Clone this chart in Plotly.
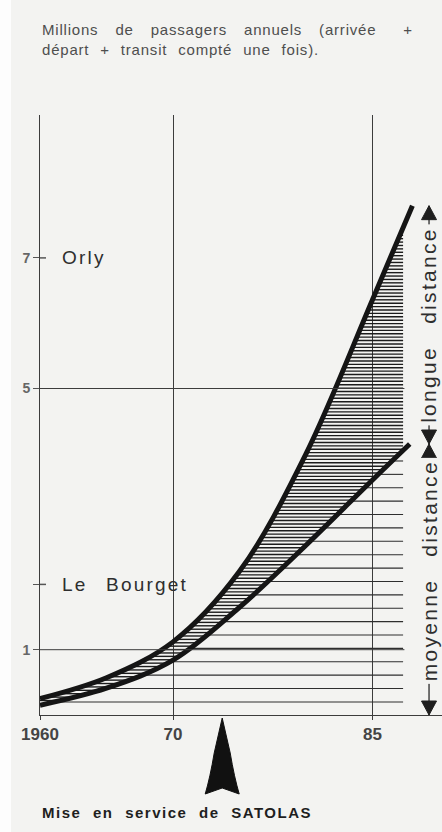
import numpy as np
import plotly.graph_objects as go

# ---- Annual passengers, millions (arrival + departure + transit counted once) ----
# upper curve: medium + long distance traffic
total_years = [1960, 1965, 1970, 1975, 1980, 1985, 1988]
total_pax = [0.25, 0.57, 1.12, 2.2, 4.0, 6.36, 7.8]
# lower curve: medium distance traffic
medium_years = [1960, 1965, 1970, 1975, 1980, 1985, 1987.8]
medium_pax = [0.15, 0.41, 0.84, 1.65, 2.6, 3.6, 4.15]

x_tick_vals = [1960, 1970, 1985]
x_tick_text = ["1960", "70", "85"]
y_tick_vals = [1, 2, 5, 7]
y_tick_text = ["1", "", "5", "7"]
ref_levels = [1, 5]
airport_names = ["Orly", "Le Bourget"]
airport_pax = [7, 2]
satolas_year = 1973.7
band_names = ["longue distance", "moyenne distance"]

# ---- page geometry / style ----
W, H = 442, 832
M_L, M_R, M_T, M_B = 40, 0, 115, 117
PX_YEAR, PX_UNIT = 13.3, 65.3
x_range = [1960, 1960 + (W - M_L - M_R) / PX_YEAR]
y_range = [0, (H - M_T - M_B) / PX_UNIT]
HATCH_END = 1987.3
LABEL_X = 1989.25
BG = "#f3f3f1"
INK = "#151515"
GRID = "#3c3c3c"
FONT = "Liberation Sans, Arial, sans-serif"


def spaced(text, letter=1.5, word=6):
    return f'<span style="letter-spacing:{letter}px;word-spacing:{word}px">{text}</span>'


def pchip(xk, yk, xs):
    """Monotone cubic (Fritsch-Carlson) used to locate hatch ends on the curves."""
    xk = np.asarray(xk, float)
    yk = np.asarray(yk, float)
    h = np.diff(xk)
    d = np.diff(yk) / h
    m = np.zeros_like(yk)
    for k in range(1, len(xk) - 1):
        if d[k - 1] * d[k] > 0:
            w1 = 2 * h[k] + h[k - 1]
            w2 = h[k] + 2 * h[k - 1]
            m[k] = (w1 + w2) / (w1 / d[k - 1] + w2 / d[k])
    m[0] = ((2 * h[0] + h[1]) * d[0] - h[0] * d[1]) / (h[0] + h[1])
    m[-1] = ((2 * h[-1] + h[-2]) * d[-1] - h[-1] * d[-2]) / (h[-1] + h[-2])
    m[0] = max(m[0], 0)
    m[-1] = max(m[-1], 0)
    idx = np.clip(np.searchsorted(xk, xs) - 1, 0, len(xk) - 2)
    t = (xs - xk[idx]) / h[idx]
    h00 = 2 * t**3 - 3 * t**2 + 1
    h10 = t**3 - 2 * t**2 + t
    h01 = -2 * t**3 + 3 * t**2
    h11 = t**3 - t**2
    return (h00 * yk[idx] + h10 * h[idx] * m[idx] + h01 * yk[idx + 1]
            + h11 * h[idx] * m[idx + 1])


t_grid = np.linspace(total_years[0], total_years[-1], 800)
t_vals = pchip(total_years, total_pax, t_grid)
m_grid = np.linspace(medium_years[0], medium_years[-1], 800)
m_vals = pchip(medium_years, medium_pax, m_grid)


def year_at(v, grid, vals):
    return float(np.interp(v, vals, grid))


# dense hatching: long distance share, between the two curves
long_x, long_y = [], []
for v in np.arange(medium_pax[0] + 0.02, total_pax[-1], 0.052):
    x0 = year_at(v, t_grid, t_vals) if v > total_pax[0] else x_range[0]
    x1 = year_at(v, m_grid, m_vals) if v < medium_pax[-1] else HATCH_END
    x1 = min(x1, HATCH_END)
    if x1 - x0 > 0.05:
        long_x += [x0, x1, None]
        long_y += [v, v, None]

# sparse hatching: medium distance share, below the lower curve
med_x, med_y = [], []
for v in np.arange(0.2, medium_pax[-1], 0.205):
    x0 = year_at(v, m_grid, m_vals) if v > medium_pax[0] else x_range[0]
    if HATCH_END - x0 > 0.05:
        med_x += [x0, HATCH_END, None]
        med_y += [v, v, None]

fig = go.Figure()
fig.add_trace(go.Scatter(x=med_x, y=med_y, mode="lines",
                         line=dict(color="#2e2e2e", width=1.1), hoverinfo="skip"))
fig.add_trace(go.Scatter(x=long_x, y=long_y, mode="lines",
                         line=dict(color="#1c1c1c", width=1.4), hoverinfo="skip"))
fig.add_trace(go.Scatter(x=medium_years, y=medium_pax, mode="lines",
                         line=dict(color=INK, width=5, shape="spline"), name="moyenne distance"))
fig.add_trace(go.Scatter(x=total_years, y=total_pax, mode="lines",
                         line=dict(color=INK, width=5, shape="spline"), name="total"))

shapes = []
# page edge
shapes.append(dict(type="rect", xref="paper", yref="paper",
                   x0=-M_L / (W - M_L - M_R), x1=(11 - M_L) / (W - M_L - M_R),
                   y0=-M_B / (H - M_T - M_B), y1=1 + M_T / (H - M_T - M_B),
                   fillcolor="#fdfdfd", line=dict(width=0), layer="below"))
# reference lines at 1 and 5 million
for lv in ref_levels:
    shapes.append(dict(type="line", xref="x", yref="y", x0=x_range[0], x1=HATCH_END + 0.1,
                       y0=lv, y1=lv, line=dict(color=GRID, width=1)))
# small inner ticks at the airport levels
for lv in airport_pax:
    shapes.append(dict(type="line", xref="x", yref="y", x0=x_range[0], x1=x_range[0] + 0.45,
                       y0=lv, y1=lv, line=dict(color="#555", width=1.5)))
# dimension lines on the right
lo_m, hi_m = 0, medium_pax[-1]
lo_l, hi_l = medium_pax[-1], total_pax[-1]
for lo, hi in [(lo_m, hi_m), (lo_l, hi_l)]:
    shapes.append(dict(type="line", xref="x", yref="y", x0=LABEL_X, x1=LABEL_X,
                       y0=lo, y1=hi, line=dict(color="#2a2a2a", width=1.3)))
up_tri = "M 0,0 L -7.5,-14 L 7.5,-14 Z"
down_tri = "M 0,0 L -7.5,14 L 7.5,14 Z"
for anchor, path in [(hi_l, up_tri), (lo_l, down_tri), (hi_m, up_tri), (lo_m, down_tri)]:
    shapes.append(dict(type="path", xref="x", yref="y", xsizemode="pixel", ysizemode="pixel",
                       xanchor=LABEL_X, yanchor=anchor, path=path,
                       fillcolor="#1e1e1e", line=dict(color="#1e1e1e", width=1)))
# opening of Satolas
shapes.append(dict(type="path", xref="x", yref="paper", xsizemode="pixel", ysizemode="pixel",
                   xanchor=satolas_year, yanchor=0,
                   path="M 0,-3 L -8,-38 Q -12,-62 -17,-79 L 0,-73 L 17,-79 Q 12,-62 8,-38 Z",
                   fillcolor="#111", line=dict(color="#111", width=1)))

annotations = []
annotations.append(dict(
    xref="paper", yref="paper", x=0, y=(H - M_B - 19) / (H - M_T - M_B),
    xanchor="left", yanchor="top", align="left", showarrow=False,
    text=spaced("Millions de passagers annuels (arrivée", 0.8, 12)
    + '<span style="letter-spacing:0.8px;word-spacing:22px"> +</span>'
    + "<br>" + spaced("départ + transit compté une fois).", 0.8, 6),
    font=dict(family=FONT, size=15, color="#4e4e4e")))
for name, lv in zip(airport_names, airport_pax):
    annotations.append(dict(xref="x", yref="y", x=1961.5, y=lv, xanchor="left", yanchor="middle",
                            showarrow=False, text=spaced(name, 2.2, 11),
                            font=dict(family=FONT, size=19, color="#2e2e2e")))
annotations.append(dict(
    xref="x", yref="y", x=LABEL_X, y=(lo_l + hi_l) / 2, textangle=-90, showarrow=False,
    text=spaced(band_names[0], 2.3, 14), bgcolor=BG, borderpad=2,
    font=dict(family=FONT, size=21, color="#2e2e2e")))
annotations.append(dict(
    xref="x", yref="y", x=LABEL_X, y=2.2, textangle=-90, showarrow=False,
    text=spaced(band_names[1], 2.3, 14), bgcolor=BG, borderpad=2,
    font=dict(family=FONT, size=21, color="#2e2e2e")))
annotations.append(dict(
    xref="paper", yref="paper", x=0, y=-97 / (H - M_T - M_B),
    xanchor="left", yanchor="middle", showarrow=False,
    text="<b>" + spaced("Mise en service de SATOLAS", 1.5, 6) + "</b>",
    font=dict(family=FONT, size=15, color="#1e1e1e")))

fig.update_layout(
    width=W, height=H, autosize=False,
    margin=dict(l=M_L, r=M_R, t=M_T, b=M_B, pad=0),
    paper_bgcolor=BG, plot_bgcolor=BG,
    showlegend=False,
    shapes=shapes, annotations=annotations,
    xaxis=dict(range=x_range, tickvals=x_tick_vals, ticktext=x_tick_text,
               showgrid=True, gridcolor=GRID, gridwidth=1, zeroline=False,
               showline=True, linecolor=GRID, linewidth=1,
               ticks="outside", ticklen=4, tickcolor=GRID,
               tickfont=dict(family=FONT, size=17, color="#444", weight="bold"),
               fixedrange=True),
    yaxis=dict(range=y_range, tickvals=y_tick_vals, ticktext=y_tick_text,
               showgrid=False, zeroline=False,
               showline=True, linecolor=GRID, linewidth=1,
               ticks="outside", ticklen=6, tickcolor="#555",
               tickfont=dict(family=FONT, size=14, color="#666", weight="bold"),
               fixedrange=True),
)

fig.write_html("out.html")
